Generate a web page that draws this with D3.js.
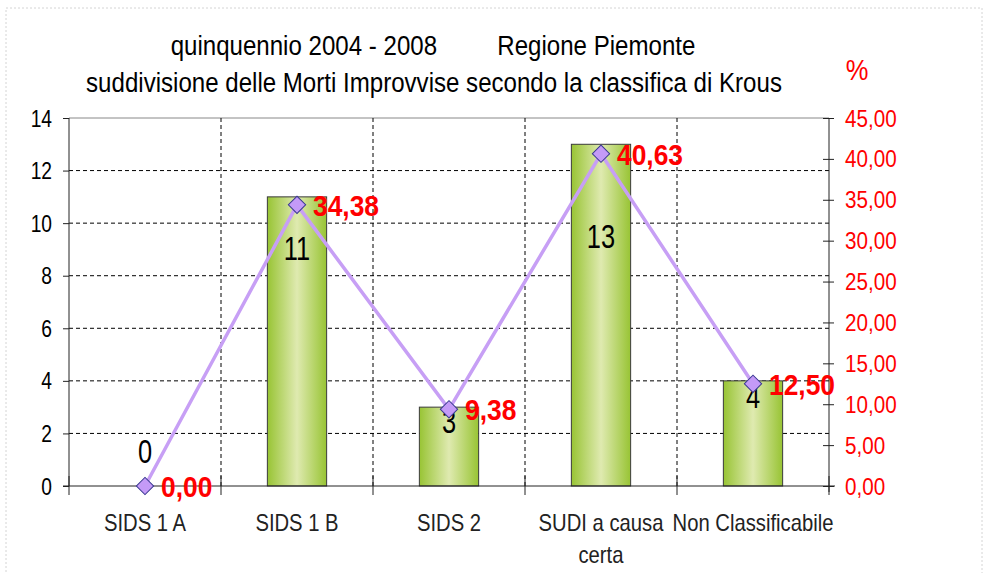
<!DOCTYPE html>
<html>
<head>
<meta charset="utf-8">
<script src="https://cdn.jsdelivr.net/npm/d3@7"></script>
<style>
  body { margin: 0; background: #fff; }
  svg { display: block; font-family: Arial, "Liberation Sans", sans-serif; }
</style>
</head>
<body>
<script>
// chart data
const categories = ["SIDS 1 A", "SIDS 1 B", "SIDS 2", "SUDI a causa certa", "Non Classificabile"];
const counts = [0, 11, 3, 13, 4];
const percents = [0.0, 34.38, 9.38, 40.63, 12.5];
const leftTicks = [0, 2, 4, 6, 8, 10, 12, 14];
const rightTicks = [0, 5, 10, 15, 20, 25, 30, 35, 40, 45];
const titleLines = ["quinquennio 2004 - 2008         Regione Piemonte",
  "suddivisione delle Morti Improvvise secondo la classifica di Krous"];

// the count labels were moved by hand in the original, shift from bar top
const countLabelShift = [-23, 63, 26, 104, 27];

const width = 987;
const height = 573;
const margin = { top: 118, right: 158, bottom: 87, left: 69 };

const svg = d3.select("body").append("svg")
  .attr("width", width)
  .attr("height", height);

const defs = svg.append("defs");
const grad = defs.append("linearGradient").attr("id", "barGrad")
  .attr("x1", "0%").attr("x2", "100%").attr("y1", "0%").attr("y2", "0%");
grad.append("stop").attr("offset", "0%").attr("stop-color", "#98c434");
grad.append("stop").attr("offset", "50%").attr("stop-color", "#dfeab0");
grad.append("stop").attr("offset", "100%").attr("stop-color", "#98c434");

// outer chart border
svg.append("rect")
  .attr("x", 6).attr("y", 8)
  .attr("width", 976).attr("height", 600)
  .attr("fill", "none")
  .attr("stroke", "#d4d4d4")
  .attr("stroke-dasharray", "2,2");

const x0 = margin.left;
const x1 = width - margin.right;
const y0 = height - margin.bottom;
const yTop = margin.top;

const x = d3.scaleBand()
  .domain(categories)
  .range([x0, x1])
  .paddingInner(0.61)
  .paddingOuter(0.305);
const step = x.step();

const y = d3.scaleLinear().domain([0, 14]).range([y0, yTop]);
const yR = d3.scaleLinear().domain([0, 45]).range([y0, yTop]);

// the original picture is squeezed horizontally, sx mimics that
function addText(parent, tx, ty, str, anchor, sx) {
  return parent.append("text")
    .attr("transform", `translate(${tx},${ty}) scale(${sx},1)`)
    .attr("text-anchor", anchor || "middle")
    .text(str);
}

// titles
const title = svg.append("g").attr("fill", "#000").style("font-size", "28px");
addText(title, 433, 55, titleLines[0], "middle", 0.86).style("white-space", "pre");
addText(title, 434, 92, titleLines[1], "middle", 0.86);
addText(svg, 857, 80, "%", "middle", 0.85).attr("fill", "#ff0000").style("font-size", "30px");

// horizontal grid
const grid = svg.append("g");
grid.selectAll("line.h")
  .data(leftTicks.filter((d) => d > 0 && d < 14))
  .join("line")
  .attr("class", "h")
  .attr("x1", x0).attr("x2", x1)
  .attr("y1", (d) => y(d)).attr("y2", (d) => y(d))
  .attr("stroke", "#000")
  .attr("stroke-width", 1)
  .attr("stroke-dasharray", "4,3");
grid.append("line")
  .attr("x1", x0).attr("x2", x1)
  .attr("y1", y(14)).attr("y2", y(14))
  .attr("stroke", "#888");

// vertical grid at category boundaries
const bounds = categories.map((c, i) => x0 + step * i);
grid.selectAll("line.v")
  .data(bounds.slice(1))
  .join("line")
  .attr("class", "v")
  .attr("x1", (d) => d).attr("x2", (d) => d)
  .attr("y1", yTop).attr("y2", y0)
  .attr("stroke", "#000")
  .attr("stroke-dasharray", "4,3");

// bars
svg.append("g")
  .selectAll("rect")
  .data(counts)
  .join("rect")
  .attr("x", (d, i) => x(categories[i]))
  .attr("y", (d) => y(d))
  .attr("width", x.bandwidth())
  .attr("height", (d) => y0 - y(d))
  .attr("fill", "url(#barGrad)")
  .attr("stroke", "#3a3a3a")
  .attr("stroke-width", 1);

// left axis
const leftAxis = svg.append("g")
  .attr("transform", `translate(${x0},0)`)
  .call(d3.axisLeft(y).tickValues(leftTicks).tickSize(6).tickFormat(""));
leftAxis.select(".domain").attr("stroke", "#222").attr("d", `M0,${yTop}V${y0}`);
leftAxis.selectAll(".tick line").attr("stroke", "#222");
const leftLab = svg.append("g").style("font-size", "24px").attr("fill", "#000");
leftTicks.forEach((t) => {
  addText(leftLab, 52, y(t) + 8.5, String(t), "end", 0.8);
});

// right axis
const rightAxis = svg.append("g")
  .attr("transform", `translate(${x1},0)`)
  .call(d3.axisRight(yR).tickValues(rightTicks).tickSize(5).tickFormat(""));
rightAxis.select(".domain").attr("stroke", "#222").attr("d", `M0,${yTop}V${y0 + 6}`);
rightAxis.selectAll(".tick line").attr("stroke", "#222").attr("x1", -6);
const rightLab = svg.append("g").style("font-size", "24px").attr("fill", "#ff0000");
rightTicks.forEach((t) => {
  addText(rightLab, 845, yR(t) + 8.5, t.toFixed(2).replace(".", ","), "start", 0.86);
});

// bottom axis
const bottom = svg.append("g");
bottom.append("line")
  .attr("x1", x0 - 6).attr("x2", x1 + 6)
  .attr("y1", y0).attr("y2", y0)
  .attr("stroke", "#222");
bottom.selectAll("line.t")
  .data(bounds.concat([x1]))
  .join("line")
  .attr("class", "t")
  .attr("x1", (d) => d).attr("x2", (d) => d)
  .attr("y1", y0 - 10).attr("y2", y0 + 9)
  .attr("stroke", "#222");

// category labels (wrapped like Excel)
const catLab = svg.append("g").style("font-size", "23px").attr("fill", "#222");
categories.forEach((c, i) => {
  const cx = x(c) + x.bandwidth() / 2;
  const lines = c === "SUDI a causa certa" ? ["SUDI a causa", "certa"] : [c];
  lines.forEach((ln, k) => {
    addText(catLab, cx, 531 + k * 32, ln, "middle", 0.88);
  });
});

// count labels
const cntLab = svg.append("g").style("font-size", "33px").attr("fill", "#000");
counts.forEach((v, i) => {
  addText(cntLab, x(categories[i]) + x.bandwidth() / 2, y(v) + countLabelShift[i], String(v), "middle", 0.77);
});

// percentage line
const pts = percents.map((p, i) => [x(categories[i]) + x.bandwidth() / 2, yR(p)]);
svg.append("path")
  .attr("d", d3.line()(pts))
  .attr("fill", "none")
  .attr("stroke", "#c79ff5")
  .attr("stroke-width", 3.5);

svg.append("g")
  .selectAll("path")
  .data(pts)
  .join("path")
  .attr("d", d3.symbol(d3.symbolSquare, 150))
  .attr("transform", (d) => `translate(${d[0]},${d[1]}) rotate(45)`)
  .attr("fill", "#c49af7")
  .attr("stroke", "#3a3a90")
  .attr("stroke-width", 1);

// percentage labels
const pctLab = svg.append("g")
  .style("font-size", "29px")
  .style("font-weight", "bold")
  .attr("fill", "#ff0000");
pts.forEach((p, i) => {
  addText(pctLab, p[0] + 16, p[1] + 11, percents[i].toFixed(2).replace(".", ","), "start", 0.91);
});
</script>
</body>
</html>
